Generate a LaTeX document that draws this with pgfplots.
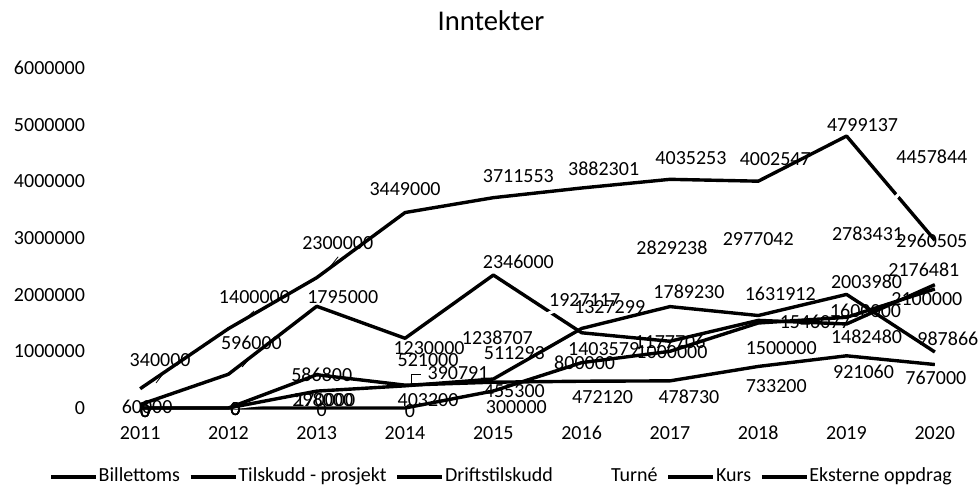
\documentclass[border=0pt]{standalone}
\usepackage{fontspec}
\setmainfont{Carlito}
\usepackage{pgfplots}
\pgfplotsset{compat=1.18}
\usepackage{pgfplotstable}

% x, y, label offset (dx, dy in px, y up), label text
\pgfplotstableread{
x y dx dy lab
2011 340000 20 29 340000
2012 1400000 26 32 1400000
2013 2300000 21 35 2300000
2014 3449000 0 23 3449000
2015 3711553 25 22 3711553
2016 3882301 22 19 3882301
2017 4035253 21 21 4035253
2018 4002547 17 22 4002547
2019 4799137 16 11 4799137
2020 2960505 -3 -1 2960505
}\billettoms

\pgfplotstableread{
x y dx dy lab
2011 60000 7 -2 60000
2012 596000 23 31 596000
2013 1795000 26 9 1795000
2014 1230000 24 -10 1230000
2015 2346000 25 13 2346000
2016 1327299 28 26 1327299
2017 1177706 0 -1 1177706
2018 1546077 57 -1 1546077
2019 1482480 20 -13 1482480
2020 2176481 -11 15 2176481
}\tilskudd

\pgfplotstableread{
x y dx dy lab
2011 0 5 -3 0
2012 0 7 -1 0
2013 0 5 -2 0
2014 0 5 -3 0
2015 300000 23 -16 300000
2016 800000 3 0 800000
2017 1000000 2 -1 1000000
2018 1500000 23 -25 1500000
2019 1600000 19 7 1600000
2020 2100000 -8 -10 2100000
}\drift

\pgfplotstableread{
x y dx dy lab
2011 0 5 -3 0
2012 0 7 -1 0
2013 170000 8 -2 170000
2014 521000 23 18 521000
2015 1238707 4 0 1238707
2016 1927117 3 -1 1927117
2017 2829238 2 0 2829238
2018 2977042 0 0 2977042
2019 2783431 21 17 2783431
2020 4457844 -3 -1 4457844
}\turne

\pgfplotstableread{
x y dx dy lab
2011 0 5 -3 0
2012 0 7 -1 0
2013 586800 5 0 586800
2014 403200 23 -15 403200
2015 455300 21 -9 455300
2016 472120 21 -16 472120
2017 478730 19 -16 478730
2018 733200 18 -20 733200
2019 921060 17 -16 921060
2020 767000 1 -13 767000
}\kurs

\pgfplotstableread{
x y dx dy lab
2011 0 5 -3 0
2012 0 7 -1 0
2013 298000 6 -9 298000
2014 390791 53 13 390791
2015 511293 21 26 511293
2016 1403579 22 -21 1403579
2017 1789230 19 15 1789230
2018 1631912 22 22 1631912
2019 2003980 20 13 2003980
2020 987866 13 13 987866
}\eksterne

\pgfplotsset{
  lbl/.style={
    draw=none, forget plot,
    point meta=explicit symbolic,
    nodes near coords,
    visualization depends on={\thisrow{dx} \as \dx},
    visualization depends on={\thisrow{dy} \as \dy},
    nodes near coords style={anchor=center, inner sep=0pt, text=black,
      font=\fontsize{10}{12}\selectfont,
      xshift=\dx*0.5pt, yshift=\dy*0.5pt},
  },
  serie/.style={black, line width=1.7pt, line join=round},
}

\begin{document}
\begin{tikzpicture}
% 1 px of the 980x490 reference = 0.5pt
\path[use as bounding box] (0pt,0pt) rectangle (490pt,245pt);
\node[font=\fontsize{14.3}{17}\selectfont] at (245.5pt,234.5pt) {Inntekter};
\begin{axis}[
  at={(48pt,41pt)}, anchor=south west,
  scale only axis, width=441.5pt, height=170pt,
  xmin=2010.5, xmax=2020.5, ymin=0, ymax=6000000,
  xtick={2011,...,2020}, ytick={0,1000000,...,6000000},
  scaled y ticks=false,
  axis line style={draw=none}, major tick length=0pt,
  tick label style={font=\fontsize{10}{12}\selectfont},
  /pgf/number format/assume math mode=true,
  /pgf/number format/1000 sep={},
  yticklabel style={/pgf/number format/fixed, xshift=-2pt},
  xticklabel style={yshift=-5.5pt},
  clip=false,
  legend columns=6,
  legend style={at={(0.4587,-0.203)}, anchor=center, draw=none,
    font=\fontsize{10}{12}\selectfont,
    nodes={inner sep=0.5pt, text height=7pt, text depth=2.2pt},
    /tikz/every even column/.append style={column sep=4pt}},
  legend image code/.code={\draw[#1] (0pt,0pt) -- (22.5pt,0pt);},
]
\addplot[serie] table[x=x, y=y] {\billettoms};
\addlegendentry{Billettoms}
\addplot[serie] table[x=x, y=y] {\tilskudd};
\addlegendentry{Tilskudd - prosjekt}
\addplot[serie] table[x=x, y=y] {\drift};
\addlegendentry{Driftstilskudd}
\addplot[serie, white] table[x=x, y=y] {\turne};
\addlegendentry{Turné}
\addplot[serie] table[x=x, y=y] {\kurs};
\addlegendentry{Kurs}
\addplot[serie] table[x=x, y=y] {\eksterne};
\addlegendentry{Eksterne oppdrag}

\addplot[lbl] table[x=x, y=y, meta=lab] {\billettoms};
\addplot[lbl] table[x=x, y=y, meta=lab] {\tilskudd};
\addplot[lbl] table[x=x, y=y, meta=lab] {\drift};
\addplot[lbl] table[x=x, y=y, meta=lab] {\turne};
\addplot[lbl] table[x=x, y=y, meta=lab] {\kurs};
\addplot[lbl] table[x=x, y=y, meta=lab] {\eksterne};

% leader lines of moved labels
\draw[black, line width=0.4pt] (axis cs:2011.18,441700) -- (axis cs:2011.25,583000);
\draw[black, line width=0.4pt] (axis cs:2012.155,1519000) -- (axis cs:2012.29,1713800);
\draw[black, line width=0.4pt] (axis cs:2013.106,2402800) -- (axis cs:2013.242,2667800);
\draw[black, line width=0.4pt] (axis cs:2012.155,724000) -- (axis cs:2012.257,901000);
\draw[black, line width=0.4pt] (axis cs:2014.069,441700) -- (axis cs:2014.069,600700) -- (axis cs:2014.18,600700);
\end{axis}
\end{tikzpicture}
\end{document}
